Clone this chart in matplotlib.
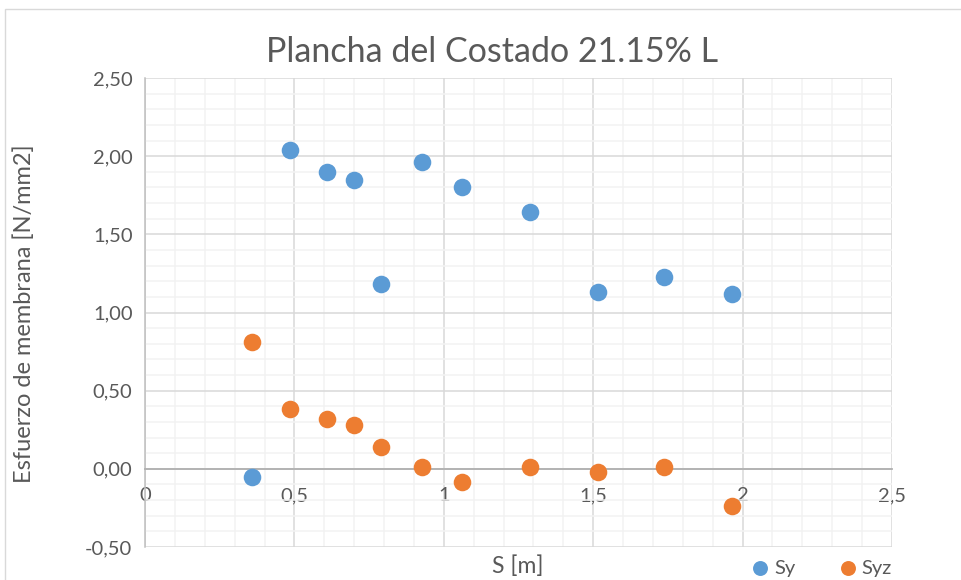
import numpy as np
import matplotlib.pyplot as plt
from matplotlib.patches import Rectangle
from matplotlib.ticker import MultipleLocator, FuncFormatter

plt.rcParams.update({'font.family': ['Lato', 'DejaVu Sans']})

# Data
s_vals = [0.358, 0.485, 0.609, 0.699, 0.789, 0.926, 1.06, 1.288, 1.515, 1.736, 1.963]
sy = [-0.05, 2.04, 1.90, 1.85, 1.18, 1.96, 1.80, 1.64, 1.13, 1.23, 1.12]
syz = [0.81, 0.38, 0.32, 0.28, 0.14, 0.01, -0.085, 0.01, -0.02, 0.01, -0.24]

title = 'Plancha del Costado 21.15% L'
xlabel = 'S [m]'
ylabel = 'Esfuerzo de membrana [N/mm2]'
blue = '#5B9BD5'
orange = '#ED7D31'
text_col = '#595959'

fig = plt.figure(figsize=(9.62, 5.8), dpi=100)
fig.patches.append(Rectangle((5 / 962, -0.01), 1.0, 1 - 9 / 580 + 0.01,
                             transform=fig.transFigure, fill=False,
                             edgecolor='#D9D9D9', lw=1))
ax = fig.add_axes([145 / 962, 33 / 580, 747 / 962, 469 / 580])

ax.set_xlim(0, 2.5)
ax.set_ylim(-0.5, 2.5)
ax.xaxis.set_major_locator(MultipleLocator(0.5))
ax.xaxis.set_minor_locator(MultipleLocator(0.1))
ax.yaxis.set_major_locator(MultipleLocator(0.5))
ax.yaxis.set_minor_locator(MultipleLocator(0.1))

ax.grid(which='major', color='#D9D9D9', lw=1.1)
ax.grid(which='minor', color='#F2F2F2', lw=1.1)
ax.set_axisbelow(True)

for sp in ['top', 'right']:
    ax.spines[sp].set_visible(False)
ax.spines['left'].set_color('#BFBFBF')
ax.spines['bottom'].set_color('#B0B0B0')
ax.spines['left'].set_linewidth(1.1)
ax.spines['bottom'].set_linewidth(1.3)
ax.spines['bottom'].set_position(('data', 0))

ax.xaxis.set_major_formatter(FuncFormatter(lambda v, p: f'{v:g}'.replace('.', ',')))
ax.yaxis.set_major_formatter(FuncFormatter(lambda v, p: f'{v:.2f}'.replace('.', ',')))
ax.tick_params(which='both', length=0, labelsize=14.5, colors=text_col)
ax.tick_params(axis='x', pad=13)
ax.tick_params(axis='y', pad=9)

ax.scatter(s_vals, sy, s=160, color=blue, zorder=3, label='Sy', linewidths=0)
ax.scatter(s_vals, syz, s=160, color=orange, zorder=3, label='Syz', linewidths=0)

fig.text(492 / 962, 1 - 52 / 580, title, ha='center', va='center', fontsize=24.5, color=text_col)
fig.text(518 / 962, 1 - 566 / 580, xlabel, ha='center', va='center', fontsize=16.5, color=text_col)
fig.text(24 / 962, 1 - 314 / 580, ylabel, ha='center', va='center', rotation=90,
         fontsize=17, color=text_col)

leg = fig.legend(loc='center', bbox_to_anchor=(816 / 962, 1 - 568 / 580), ncol=2,
                 frameon=False, fontsize=14.5, handletextpad=-0.3, columnspacing=1.6,
                 markerscale=0.85, borderpad=0)
for t in leg.get_texts():
    t.set_color(text_col)

fig.savefig('out.png', dpi=100)
